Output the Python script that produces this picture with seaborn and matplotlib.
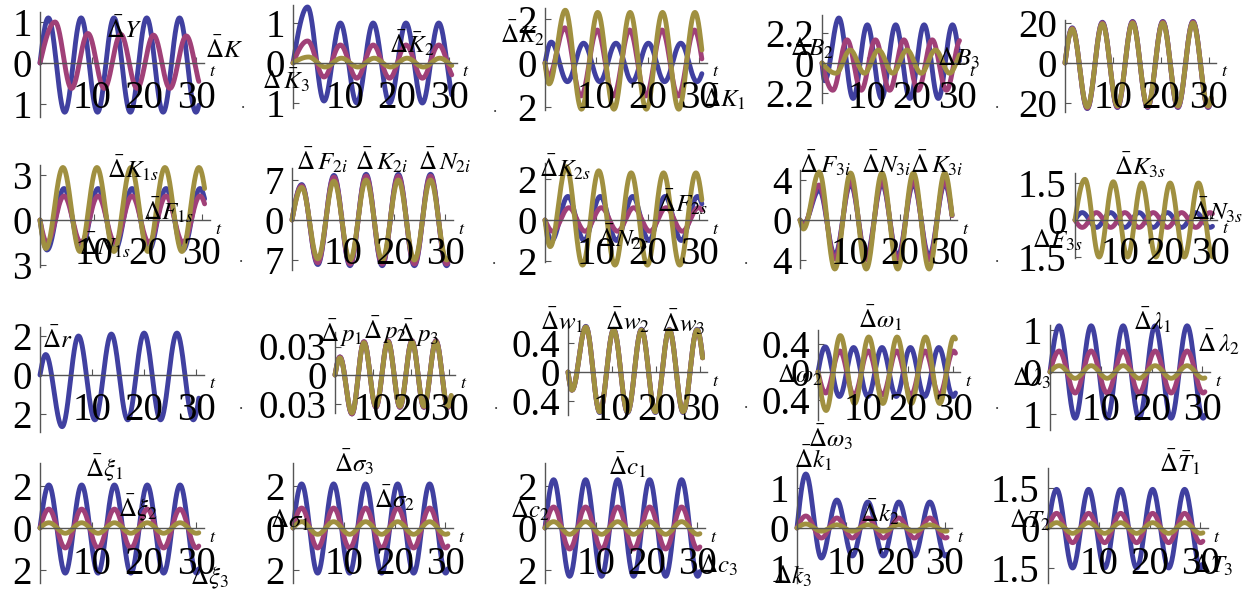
import numpy as np
import pandas as pd
import matplotlib
matplotlib.use("Agg")
import matplotlib.pyplot as plt
import seaborn as sns

sns.set_theme(style="white")
plt.rcParams['font.family'] = ['Liberation Serif', 'DejaVu Serif']
plt.rcParams['mathtext.fontset'] = 'stix'
plt.rcParams['text.color'] = 'black'

# ---------------- data ----------------
HALF_PERIOD = 3.15      # time between successive extrema
T_END = 30.5
X_MAX = 31.5
x_ticks = [10, 20, 30]

# first-extremum times (blue, red, olive) and successive extremum values
p00_t0 = [1.6, 2.9]
p00_blue = [1.1, -1.2, 1.1, -1.2, 1.1, -1.2, 1.1, -1.2, 1.1, -1.2, 1.1]
p00_red = [1.0, -0.62, 0.72, -0.62, 0.7, -0.62, 0.68, -0.62, 0.66, -0.62, 0.66]

p01_t0 = [2.8, 2.8, 3.0]
p01_blue = [1.4, -0.95, 1.0, -1.0, 1.0, -1.0, 1.0, -1.0, 1.0, -1.0, 1.0]
p01_red = [0.55, -0.35, 0.45, -0.38, 0.45, -0.38, 0.45, -0.38, 0.45, -0.38, 0.45]
p01_olive = [0.15, -0.1, 0.12, -0.1, 0.12, -0.1, 0.12, -0.1, 0.12, -0.1, 0.12]

p02_t0 = [1.2, 0.7, 0.8]
p02_blue = [0.95, -0.85, 0.9, -0.85, 0.9, -0.85, 0.9, -0.85, 0.9, -0.85, 0.9]
p02_red = [-0.6, 1.6, -1.5, 1.5, -1.5, 1.5, -1.5, 1.5, -1.5, 1.5, -1.5]
p02_olive = [-0.95, 2.4, -2.1, 2.3, -2.1, 2.3, -2.1, 2.3, -2.1, 2.3, -2.1]

p03_t0 = [0.6, 2.4, 3.1]
p03_blue = [-1.3, 3.3, -2.6, 2.8, -2.6, 2.8, -2.6, 2.8, -2.6, 2.8, -2.6]
p03_red = [-2.0, 1.7, -2.0, 1.7, -2.0, 1.7, -2.0, 1.7, -2.0, 1.7, -2.0]
p03_olive = [-0.75, 0.95, -0.75, 0.95, -0.75, 0.95, -0.75, 0.95, -0.75, 0.95, -0.75]

p04_t0 = [1.5, 1.5, 1.5]
p04_blue = [17.6, -22.8, 20.4, -22.3, 20.8, -22.3, 20.8, -22.3, 20.8, -22.3, 20.8]
p04_red = [17.3, -22.5, 20.1, -22.0, 20.5, -22.0, 20.5, -22.0, 20.5, -22.0, 20.5]
p04_olive = [17.0, -22.0, 19.6, -21.5, 20.0, -21.5, 20.0, -21.5, 20.0, -21.5, 20.0]

p10_t0 = [1.3, 1.3, 1.1]
p10_blue = [-2.0, 2.1, -2.0, 2.1, -2.0, 2.1, -2.0, 2.1, -2.0, 2.1, -2.0]
p10_red = [-1.5, 1.6, -1.5, 1.6, -1.5, 1.6, -1.5, 1.6, -1.5, 1.6, -1.5]
p10_olive = [-1.9, 3.5, -2.1, 3.5, -2.1, 3.5, -2.1, 3.5, -2.1, 3.5, -2.1]

p11_t0 = [1.9, 1.9, 1.9]
p11_blue = [6.2, -7.8, 7.8, -8.0, 8.0, -8.0, 8.0, -8.0, 8.0, -8.0, 8.0]
p11_red = [6.0, -7.5, 7.5, -7.7, 7.7, -7.7, 7.7, -7.7, 7.7, -7.7, 7.7]
p11_olive = [5.7, -6.8, 6.8, -7.0, 7.0, -7.0, 7.0, -7.0, 7.0, -7.0, 7.0]

p12_t0 = [1.3, 1.5, 1.0]
p12_blue = [-1.0, 1.15, -1.0, 1.15, -1.0, 1.15, -1.0, 1.15, -1.0, 1.15, -1.0]
p12_red = [-0.55, 0.6, -0.55, 0.6, -0.55, 0.6, -0.55, 0.6, -0.55, 0.6, -0.55]
p12_olive = [-1.3, 2.6, -2.2, 2.4, -2.2, 2.3, -2.2, 2.3, -2.2, 2.3, -2.2]

p13_t0 = [0.7, 0.7, 0.7]
p13_blue = [-0.4, 3.0, -3.5, 3.6, -3.6, 3.6, -3.6, 3.6, -3.6, 3.6, -3.6]
p13_red = [-0.5, 3.5, -3.9, 3.9, -4.0, 3.9, -4.0, 3.9, -4.0, 3.9, -4.0]
p13_olive = [-0.9, 4.8, -4.9, 4.7, -4.9, 4.7, -4.9, 4.7, -4.9, 4.7, -4.9]

p14_t0 = [1.6, 1.6, 2.2]
p14_blue = [0.3, -0.3, 0.3, -0.3, 0.3, -0.3, 0.3, -0.3, 0.3, -0.3, 0.3]
p14_red = [-0.3, 0.3, -0.3, 0.3, -0.3, 0.3, -0.3, 0.3, -0.3, 0.3, -0.3]
p14_olive = [1.65, -1.5, 1.55, -1.5, 1.5, -1.5, 1.5, -1.5, 1.5, -1.5, 1.5]

p20_t0 = [1.1]
p20_blue = [1.05, -2.65, 2.0, -2.3, 2.1, -2.3, 2.15, -2.3, 2.15, -2.3, 2.15]

p21_t0 = [1.3, 1.3, 1.3]
p21_blue = [0.019, -0.041, 0.035, -0.034, 0.036, -0.034, 0.036, -0.034, 0.036, -0.034, 0.036]
p21_red = [0.019, -0.041, 0.035, -0.034, 0.036, -0.034, 0.036, -0.034, 0.036, -0.034, 0.036]
p21_olive = [0.018, -0.04, 0.034, -0.033, 0.035, -0.033, 0.035, -0.033, 0.035, -0.033, 0.035]

p22_t0 = [0.9, 0.9, 0.9]
p22_blue = [-0.25, 0.63, -0.56, 0.59, -0.56, 0.59, -0.56, 0.59, -0.56, 0.59, -0.56]
p22_red = [-0.25, 0.62, -0.55, 0.58, -0.55, 0.58, -0.55, 0.58, -0.55, 0.58, -0.55]
p22_olive = [-0.25, 0.62, -0.55, 0.58, -0.55, 0.58, -0.55, 0.58, -0.55, 0.58, -0.55]

p23_t0 = [1.6, 1.7, 1.8]
p23_blue = [0.36, -0.35, 0.35, -0.35, 0.35, -0.35, 0.35, -0.35, 0.35, -0.35, 0.35]
p23_red = [-0.3, 0.3, -0.33, 0.3, -0.33, 0.3, -0.33, 0.3, -0.33, 0.3, -0.33]
p23_olive = [-0.55, 0.52, -0.45, 0.5, -0.45, 0.5, -0.45, 0.5, -0.45, 0.5, -0.45]

p24_t0 = [1.8, 1.8, 1.8]
p24_blue = [1.1, -1.1, 1.1, -1.1, 1.1, -1.1, 1.1, -1.1, 1.1, -1.1, 1.1]
p24_red = [0.5, -0.5, 0.5, -0.5, 0.5, -0.5, 0.5, -0.5, 0.5, -0.5, 0.5]
p24_olive = [0.15, -0.15, 0.15, -0.15, 0.15, -0.15, 0.15, -0.15, 0.15, -0.15, 0.15]

p30_t0 = [1.7, 1.7, 1.7]
p30_blue = [2.05, -2.15, 2.05, -2.15, 2.05, -2.15, 2.05, -2.15, 2.05, -2.15, 2.05]
p30_red = [0.9, -0.95, 0.9, -0.95, 0.9, -0.95, 0.9, -0.95, 0.9, -0.95, 0.9]
p30_olive = [0.25, -0.25, 0.25, -0.25, 0.25, -0.25, 0.25, -0.25, 0.25, -0.25, 0.25]

p31_t0 = [1.7, 1.7, 1.7]
p31_blue = [2.1, -2.15, 2.1, -2.15, 2.1, -2.15, 2.1, -2.15, 2.1, -2.15, 2.1]
p31_red = [0.95, -0.95, 0.95, -0.95, 0.95, -0.95, 0.95, -0.95, 0.95, -0.95, 0.95]
p31_olive = [0.3, -0.3, 0.3, -0.3, 0.3, -0.3, 0.3, -0.3, 0.3, -0.3, 0.3]

p32_t0 = [1.7, 1.7, 1.7]
p32_blue = [2.3, -2.3, 2.3, -2.3, 2.3, -2.3, 2.3, -2.3, 2.3, -2.3, 2.3]
p32_red = [1.0, -1.0, 1.0, -1.0, 1.0, -1.0, 1.0, -1.0, 1.0, -1.0, 1.0]
p32_olive = [0.3, -0.3, 0.3, -0.3, 0.3, -0.3, 0.3, -0.3, 0.3, -0.3, 0.3]

p33_t0 = [1.8, 1.8, 1.8]
p33_blue = [1.35, -0.75, 0.7, -0.7, 0.65, -0.7, 0.65, -0.7, 0.65, -0.7, 0.65]
p33_red = [0.3, -0.25, 0.25, -0.25, 0.25, -0.25, 0.25, -0.25, 0.25, -0.25, 0.25]
p33_olive = [0.1, -0.08, 0.08, -0.08, 0.08, -0.08, 0.08, -0.08, 0.08, -0.08, 0.08]

p34_t0 = [1.7, 1.7, 1.7]
p34_blue = [1.45, -1.5, 1.45, -1.5, 1.45, -1.5, 1.45, -1.5, 1.45, -1.5, 1.45]
p34_red = [0.55, -0.55, 0.55, -0.55, 0.55, -0.55, 0.55, -0.55, 0.55, -0.55, 0.55]
p34_olive = [0.2, -0.2, 0.2, -0.2, 0.2, -0.2, 0.2, -0.2, 0.2, -0.2, 0.2]

# panel labels
p00_labels = [r'$\bar{\Delta}Y$', r'$\bar{\Delta}K$']
p01_labels = [r'$\bar{\Delta}\bar{K}_2$', r'$\Delta\,\bar{K}_3$']
p02_labels = [r'$\bar{\Delta}K_2$', r'$\bar{\Delta}K_1$']
p03_labels = [r'$\Delta B_2$', r'$\Delta B_3$']
p04_labels = []
p10_labels = [r'$\bar{\Delta}K_{1s}$', r'$\bar{\Delta}F_{1s}$', r'$\bar{\Delta}N_{1s}$']
p11_labels = [r'$\bar{\Delta}\,F_{2i}$', r'$\bar{\Delta}\,K_{2i}$', r'$\bar{\Delta}\,N_{2i}$']
p12_labels = [r'$\bar{\Delta}K_{2s}$', r'$\bar{\Delta}F_{2s}$', r'$\bar{\Delta}N_{2s}$']
p13_labels = [r'$\bar{\Delta}\,F_{3i}$', r'$\bar{\Delta}N_{3i}$', r'$\bar{\Delta}\,K_{3i}$']
p14_labels = [r'$\bar{\Delta}K_{3s}$', r'$\bar{\Delta}N_{3s}$', r'$\Delta F_{3s}$']
p20_labels = [r'$\bar{\Delta}r$']
p21_labels = [r'$\bar{\Delta}\,p_1$', r'$\bar{\Delta}\,p_2$', r'$\bar{\Delta}\,p_3$']
p22_labels = [r'$\bar{\Delta}w_1$', r'$\bar{\Delta}w_2$', r'$\bar{\Delta}w_3$']
p23_labels = [r'$\bar{\Delta}\omega_1$', r'$\Delta\omega_2$', r'$\bar{\Delta}\omega_3$']
p24_labels = [r'$\bar{\Delta}\lambda_1$', r'$\bar{\Delta}\,\lambda_2$', r'$\Delta\lambda_3$']
p30_labels = [r'$\bar{\Delta}\xi_1$', r'$\bar{\Delta}\xi_2$', r'$\Delta\xi_3$']
p31_labels = [r'$\bar{\Delta}\sigma_3$', r'$\Delta\sigma_1$', r'$\bar{\Delta}\sigma_2$']
p32_labels = [r'$\bar{\Delta}c_1$', r'$\Delta c_2$', r'$\Delta c_3$']
p33_labels = [r'$\bar{\Delta}k_1$', r'$\bar{\Delta}k_2$', r'$\Delta k_3$']
p34_labels = [r'$\bar{\Delta}\bar{T}_1$', r'$\Delta T_2$', r'$\Delta T_3$']

y_tick_values = [1, 1, 2, 2.2, 20,
                 3, 7, 2, 4, 1.5,
                 2, 0.03, 0.4, 0.4, 1,
                 2, 2, 2, 1, 1.5]

# ---------------- layout / style ----------------
W, H = 1248, 593
COLORS = ['#4040a0', '#a04078', '#a09040']
LW = 3.5
AXCOL = '#555555'
TICK_FS = 28
LABEL_FS = 18

# left, width, top, bottom, zero-line, pixels between 0 and tick
geom = [
    (40, 164, 12, 117, 63, 41), (293, 164, 5, 108, 63, 40), (545, 162, 8, 110, 63, 44),
    (822, 142, 15, 103, 63, 30), (1065, 151, 20, 112, 63, 40),
    (40, 170, 165, 267, 220, 45), (292, 161, 168, 270, 220, 40), (545, 162, 163, 262, 220, 41),
    (800, 157, 170, 268, 220, 40), (1075, 142, 173, 258, 220, 37),
    (40, 164, 327, 432, 375, 39), (335, 120, 332, 413, 375, 28.5), (568, 139, 325, 415, 372, 29),
    (818, 142, 330, 420, 372, 28), (1050, 160, 325, 430, 372, 42),
    (40, 164, 463, 583, 528, 42), (293, 160, 463, 583, 528, 42), (545, 160, 463, 583, 528, 42),
    (797, 155, 465, 583, 528, 40), (1048, 160, 468, 583, 528, 40),
]
xlabel_row_y = [98, 255, 410, 565]

label_pos = [
    [(124, 30), (224, 50)],
    [(412, 43), (286, 80)],
    [(523, 33), (724, 97)],
    [(812, 48), (958, 58)],
    [],
    [(133, 168), (168, 210), (105, 245)],
    [(322, 160), (382, 160), (445, 160)],
    [(565, 167), (682, 202), (623, 237)],
    [(825, 163), (886, 163), (937, 163)],
    [(1140, 165), (1217, 210), (1057, 240)],
    [(57, 340)],
    [(341, 333), (385, 330), (418, 333)],
    [(562, 320), (628, 320), (683, 322)],
    [(880, 318), (800, 375), (830, 437)],
    [(1152, 320), (1218, 342), (1032, 378)],
    [(104, 468), (138, 508), (210, 578)],
    [(354, 462), (290, 520), (394, 498)],
    [(627, 465), (530, 510), (718, 565)],
    [(813, 458), (880, 512), (792, 576)],
    [(1180, 462), (1030, 520), (1213, 565)],
]
dot_pos = [(243, 104), (495, 108), (997, 104),
           (241, 258), (494, 260), (746, 260), (997, 258),
           (241, 405), (496, 405), (746, 404), (997, 405)]

panels = [
    (p00_t0, [p00_blue, p00_red], p00_labels),
    (p01_t0, [p01_blue, p01_red, p01_olive], p01_labels),
    (p02_t0, [p02_blue, p02_red, p02_olive], p02_labels),
    (p03_t0, [p03_blue, p03_red, p03_olive], p03_labels),
    (p04_t0, [p04_blue, p04_red, p04_olive], p04_labels),
    (p10_t0, [p10_blue, p10_red, p10_olive], p10_labels),
    (p11_t0, [p11_blue, p11_red, p11_olive], p11_labels),
    (p12_t0, [p12_blue, p12_red, p12_olive], p12_labels),
    (p13_t0, [p13_blue, p13_red, p13_olive], p13_labels),
    (p14_t0, [p14_blue, p14_red, p14_olive], p14_labels),
    (p20_t0, [p20_blue], p20_labels),
    (p21_t0, [p21_blue, p21_red, p21_olive], p21_labels),
    (p22_t0, [p22_blue, p22_red, p22_olive], p22_labels),
    (p23_t0, [p23_blue, p23_red, p23_olive], p23_labels),
    (p24_t0, [p24_blue, p24_red, p24_olive], p24_labels),
    (p30_t0, [p30_blue, p30_red, p30_olive], p30_labels),
    (p31_t0, [p31_blue, p31_red, p31_olive], p31_labels),
    (p32_t0, [p32_blue, p32_red, p32_olive], p32_labels),
    (p33_t0, [p33_blue, p33_red, p33_olive], p33_labels),
    (p34_t0, [p34_blue, p34_red, p34_olive], p34_labels),
]


def curve(t0, ext, t):
    """Smooth path through the read extrema (sine-shaped segments)."""
    kt = np.concatenate([[0.0], t0 + HALF_PERIOD * np.arange(len(ext))])
    ky = np.concatenate([[0.0], np.asarray(ext, float)])
    idx = np.clip(np.searchsorted(kt, t, side='right') - 1, 0, len(kt) - 2)
    ta, tb = kt[idx], kt[idx + 1]
    ya, yb = ky[idx], ky[idx + 1]
    s = (t - ta) / (tb - ta)
    shape = np.where(idx == 0, np.sin(np.pi * s / 2), (1 - np.cos(np.pi * s)) / 2)
    return ya + (yb - ya) * shape


fig = plt.figure(figsize=(W / 100, H / 100), dpi=100)
t = np.linspace(0, T_END, 600)

for i, ((t0s, series, labels), (left, width, top, bottom, zero, tickpx)) in enumerate(zip(panels, geom)):
    row = i // 5
    tick = y_tick_values[i]
    ax = fig.add_axes([left / W, 1 - bottom / H, width / W, (bottom - top) / H])
    upx = tickpx / tick
    ax.set_ylim(-(bottom - zero) / upx, (zero - top) / upx)
    ax.set_xlim(0, X_MAX)

    frames = []
    for k, (t0, ext) in enumerate(zip(t0s, series)):
        frames.append(pd.DataFrame({'t': t, 'y': curve(t0, ext, t), 's': k}))
    df = pd.concat(frames, ignore_index=True)
    for k in range(len(series)):
        sub = df[df['s'] == k]
        sns.lineplot(data=sub, x='t', y='y', ax=ax, color=COLORS[k], linewidth=LW,
                     estimator=None, sort=False, legend=False)
    for ln in ax.lines:
        ln.set_clip_on(False)
        ln.set_solid_capstyle('round')

    ax.set_xlabel('')
    ax.set_ylabel('')
    ax.patch.set_alpha(0)
    for sp in ['top', 'right']:
        ax.spines[sp].set_visible(False)
    ax.spines['left'].set_color(AXCOL)
    ax.spines['left'].set_linewidth(1.0)
    ax.spines['bottom'].set_position(('data', 0))
    ax.spines['bottom'].set_color(AXCOL)
    ax.spines['bottom'].set_linewidth(1.0)
    ax.spines['bottom'].set_zorder(5)

    ax.set_yticks([-tick, 0, tick])
    ax.set_yticklabels([f'{tick:g}', '0', f'{tick:g}'])
    ax.tick_params(axis='y', direction='in', length=4, width=0.8, color=AXCOL,
                   labelsize=TICK_FS, labelcolor='black', pad=6, left=True)
    ax.set_xticks(x_ticks)
    ax.tick_params(axis='x', direction='in', length=4, width=0.8, color=AXCOL,
                   labelbottom=False, bottom=True)

    yfrac = 1 - xlabel_row_y[row] / H
    for v in x_ticks:
        ax.annotate(str(v), xy=(v, yfrac), xycoords=('data', 'figure fraction'),
                    ha='center', va='center', fontsize=TICK_FS, color='black',
                    annotation_clip=False)
    ax.annotate(r'$t$', xy=(X_MAX, 0), xytext=(9, -9), textcoords='offset pixels',
                ha='center', va='center', fontsize=13, color='black', annotation_clip=False)

    for lab, (lx, ly) in zip(labels, label_pos[i]):
        fig.text(lx / W, 1 - ly / H, lab, ha='center', va='center', fontsize=LABEL_FS,
                 color='black')

for dx, dy in dot_pos:
    fig.text(dx / W, 1 - dy / H, '.', ha='center', va='center', fontsize=12, color='#333333')

fig.savefig('out.png', dpi=100, facecolor='white')
